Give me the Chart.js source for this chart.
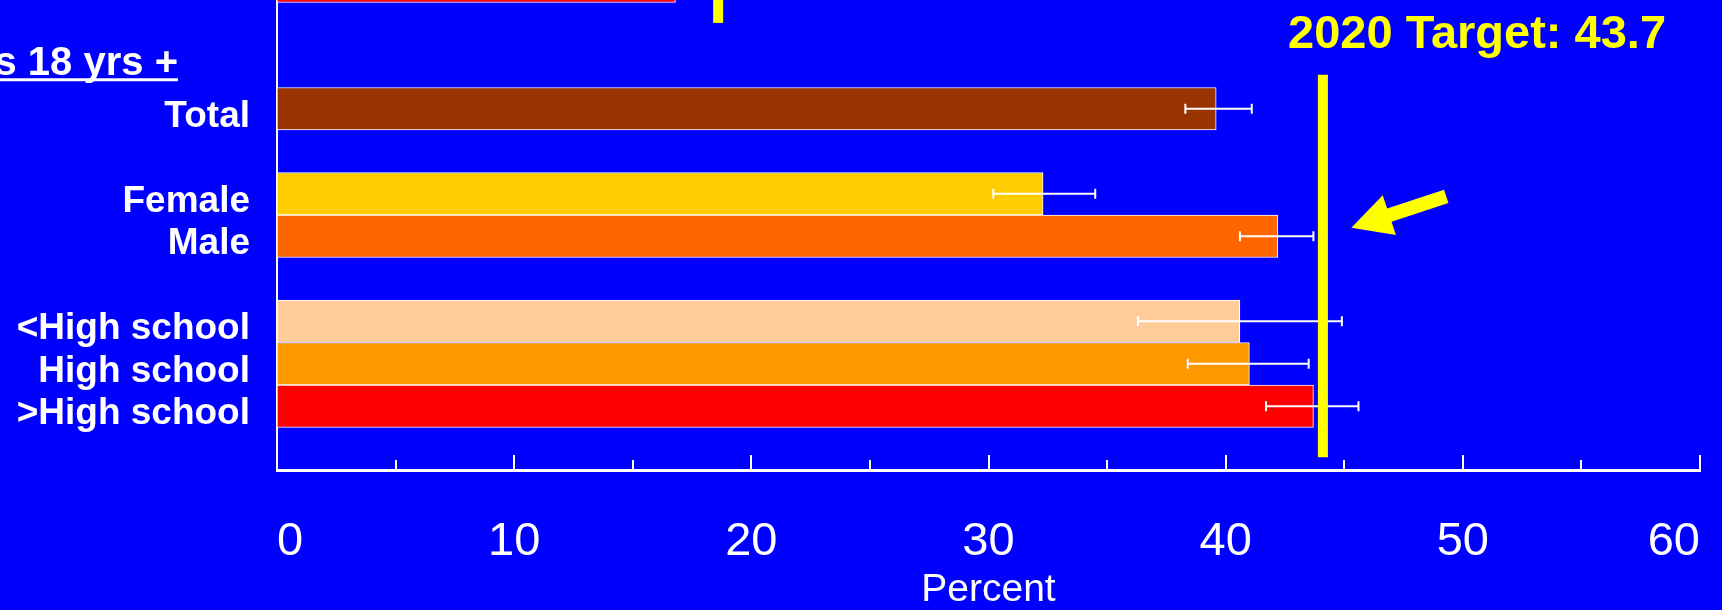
<!DOCTYPE html>
<html>
<head>
<meta charset="utf-8">
<title>Percent by group</title>
<script src="https://cdn.jsdelivr.net/npm/chart.js@4.4.1/dist/chart.umd.min.js"></script>
<style>
  html, body { margin: 0; padding: 0; background: #0000ff; overflow: hidden; }
  #wrap { position: relative; width: 1722px; height: 610px; overflow: hidden; background: #0000ff; }
  /* canvas is taller than the window: the slide above is cut off at the top */
  #chart { position: absolute; left: 0; top: -60px; }
</style>
</head>
<body>
<div id="wrap"><canvas id="chart" width="1760" height="680"></canvas></div>
<script>
const FONT = '"Liberation Sans", Arial, Helvetica, sans-serif';

// rows from top to bottom ('' = spacer row)
const categories = ['', '', 'Adults 18 yrs +', 'Total', '', 'Female', 'Male', '', '<High school', 'High school', '>High school', ''];
const percent    = [16.8, null, null, 39.6, null, 32.3, 42.2, null, 40.6, 41.0, 43.7, null];
const ciLow      = [null, null, null, 38.3, null, 30.2, 40.6, null, 36.3, 38.4, 41.7, null];
const ciHigh     = [null, null, null, 41.1, null, 34.5, 43.7, null, 44.9, 43.5, 45.6, null];
const barColors  = ['#ff0000', null, null, '#993300', null, '#ffcc00', '#ff6600', null, '#ffcc99', '#ff9900', '#ff0000', null];
const headerRow = 2;

// x axis
const xMin = 0, xMax = 60, xStep = 5, xLabelStep = 10;

// target line + its label
const target = 43.7;
const targetLineAt = 44.1;          // where the line sits on the scale
const targetRows = [2.2, 11.2];     // vertical extent, in row units
const prevTargetLineAt = 18.6;      // the line of the group above (cut off)
const prevTargetRows = [-1, 0.98];
const targetLabelAt = { x: 50.6, row: 1.58 };
const arrowTip  = { x: 45.3, row: 5.8 };
const arrowTail = { x: 49.3, row: 5.06 };

// error bars (white whiskers)
const errorBars = {
  id: 'errorBars',
  afterDatasetsDraw(chart) {
    const { ctx, scales: { x, y } } = chart;
    ctx.save();
    ctx.strokeStyle = '#ffffff';
    ctx.lineWidth = 2;
    ciLow.forEach((lo, i) => {
      if (lo == null) return;
      const py = y.getPixelForValue(i);
      const x1 = x.getPixelForValue(lo), x2 = x.getPixelForValue(ciHigh[i]);
      ctx.beginPath();
      ctx.moveTo(x1, py); ctx.lineTo(x2, py);
      ctx.moveTo(x1, py - 5); ctx.lineTo(x1, py + 5);
      ctx.moveTo(x2, py - 5); ctx.lineTo(x2, py + 5);
      ctx.stroke();
    });
    ctx.restore();
  }
};

// inward tick marks on the x axis, long at labels, short in between
const tickMarks = {
  id: 'tickMarks',
  afterDraw(chart) {
    const { ctx, chartArea, scales: { x } } = chart;
    ctx.save();
    ctx.strokeStyle = '#ffffff';
    ctx.lineWidth = 2;
    for (let v = xMin + xStep; v <= xMax; v += xStep) {
      const px = Math.round(x.getPixelForValue(v));
      const len = v % xLabelStep === 0 ? 15 : 10;
      ctx.beginPath();
      ctx.moveTo(px, chartArea.bottom);
      ctx.lineTo(px, chartArea.bottom - len);
      ctx.stroke();
    }
    ctx.restore();
  }
};

function drawArrow(ctx, tx, ty, bx, by) {
  const dx = tx - bx, dy = ty - by;
  const L = Math.hypot(dx, dy);
  const ux = dx / L, uy = dy / L, nx = -uy, ny = ux;
  const headLen = 40, headW = 21, shaftW = 7;
  const hx = tx - ux * headLen, hy = ty - uy * headLen;
  ctx.beginPath();
  ctx.moveTo(tx, ty);
  ctx.lineTo(hx + nx * headW, hy + ny * headW);
  ctx.lineTo(hx + nx * shaftW, hy + ny * shaftW);
  ctx.lineTo(bx + nx * shaftW, by + ny * shaftW);
  ctx.lineTo(bx - nx * shaftW, by - ny * shaftW);
  ctx.lineTo(hx - nx * shaftW, hy - ny * shaftW);
  ctx.lineTo(hx - nx * headW, hy - ny * headW);
  ctx.closePath();
  ctx.fill();
}

// yellow target lines, "2020 Target" text, arrow, underlined group header
const annotations = {
  id: 'annotations',
  afterDraw(chart) {
    const { ctx, chartArea, scales: { x, y } } = chart;
    ctx.save();
    ctx.fillStyle = '#ffff00';
    [[targetLineAt, targetRows], [prevTargetLineAt, prevTargetRows]].forEach(([v, rows]) => {
      const px = x.getPixelForValue(v);
      const y1 = y.getPixelForValue(rows[0]), y2 = y.getPixelForValue(rows[1]);
      ctx.fillRect(px - 5, y1, 10, y2 - y1);
    });

    ctx.font = 'bold 47px ' + FONT;
    ctx.textAlign = 'center';
    ctx.textBaseline = 'alphabetic';
    ctx.fillText('2020 Target: ' + target, x.getPixelForValue(targetLabelAt.x), y.getPixelForValue(targetLabelAt.row));

    drawArrow(ctx,
      x.getPixelForValue(arrowTip.x), y.getPixelForValue(arrowTip.row),
      x.getPixelForValue(arrowTail.x), y.getPixelForValue(arrowTail.row));

    // group header, right end ~99px left of the axis
    const hy = y.getPixelForValue(headerRow) + 9;
    const hx = chartArea.left - 99;
    ctx.fillStyle = '#ffffff';
    ctx.font = 'bold 40px ' + FONT;
    ctx.textAlign = 'right';
    ctx.fillText(categories[headerRow], hx, hy);
    const w = ctx.measureText(categories[headerRow]).width;
    ctx.fillRect(hx - w, hy + 3, w, 3);
    ctx.restore();
  }
};

new Chart(document.getElementById('chart'), {
  type: 'bar',
  data: {
    labels: categories,
    datasets: [{
      data: percent,
      backgroundColor: barColors,
      borderColor: '#ffffff',
      borderWidth: 1,
      borderSkipped: false,
      categoryPercentage: 1,
      barPercentage: 1
    }]
  },
  options: {
    indexAxis: 'y',
    responsive: false,
    animation: false,
    devicePixelRatio: 1,
    layout: { padding: { top: 20, right: 60, bottom: 0, left: 0 } },
    plugins: { legend: { display: false }, tooltip: { enabled: false } },
    scales: {
      x: {
        type: 'linear',
        min: xMin, max: xMax,
        grid: { display: false, drawTicks: false },
        border: { color: '#ffffff', width: 3 },
        ticks: {
          stepSize: xStep,
          autoSkip: false,
          maxRotation: 0,
          align: 'inner',
          color: '#ffffff',
          padding: 44,
          font: { family: FONT, size: 47 },
          callback: v => (v % xLabelStep === 0 ? v : '')
        },
        title: {
          display: true,
          text: 'Percent',
          color: '#ffffff',
          font: { family: FONT, size: 39 },
          padding: { top: 0, bottom: 6 }
        },
        // fixed height; layout padding already leaves room for the end labels
        afterFit: s => { s.height = 150; s.paddingLeft = 0; s.paddingRight = 0; }
      },
      y: {
        grid: { display: false, drawTicks: false },
        border: { color: '#ffffff', width: 2 },
        ticks: {
          autoSkip: false,
          color: '#ffffff',
          padding: 27,
          labelOffset: 8,
          font: { family: FONT, size: 37, weight: 'bold' },
          callback: (v, i) => (i === headerRow ? '' : categories[i])
        },
        // fixed width, and no extra room reserved above/below for labels
        afterFit: s => { s.width = 277; s.paddingTop = 0; s.paddingBottom = 0; }
      }
    }
  },
  plugins: [errorBars, tickMarks, annotations]
});
</script>
</body>
</html>
